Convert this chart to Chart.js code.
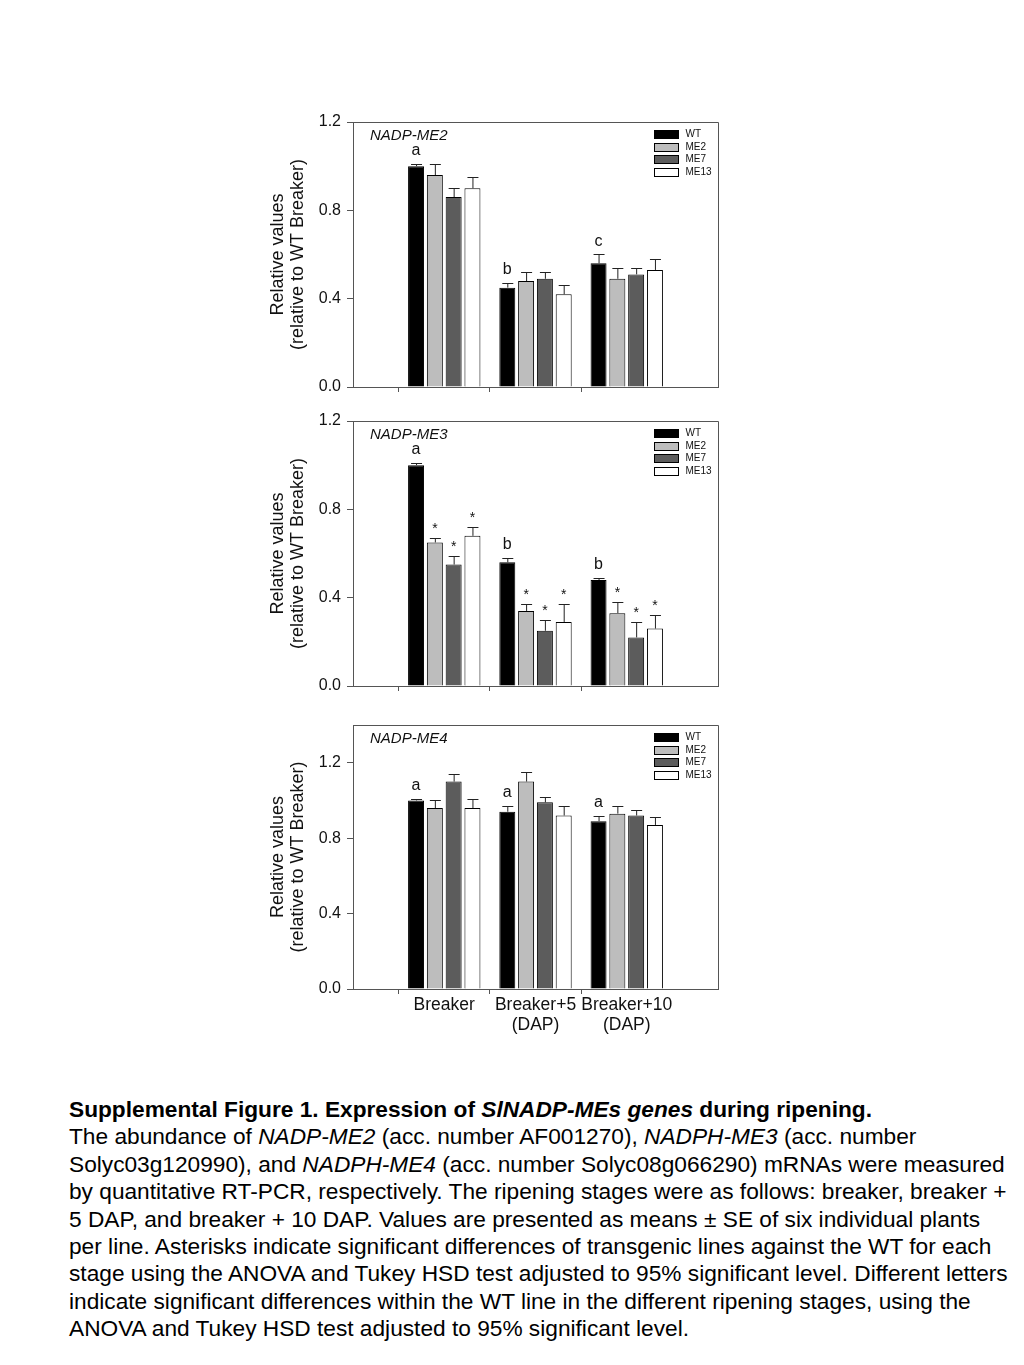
<!DOCTYPE html>
<html>
<head>
<meta charset="utf-8">
<script src="https://cdn.jsdelivr.net/npm/chart.js@4.4.1/dist/chart.umd.min.js"></script>
<style>
  body { margin: 0; background: #fff; width: 1024px; height: 1365px; position: relative; font-family: "Liberation Sans", Arial, sans-serif; }
  canvas { position: absolute; }
  #caption { position: absolute; left: 69px; top: 1096px; font-size: 22.7px; line-height: 27.4px; color: #000; white-space: nowrap; }
</style>
</head>
<body>
<canvas id="me2" width="462" height="297" style="left:268px; top:106px"></canvas>
<canvas id="me3" width="462" height="297" style="left:268px; top:405px"></canvas>
<canvas id="me4" width="462" height="332" style="left:268px; top:709px"></canvas>

<div id="caption">
<b>Supplemental Figure 1. Expression of <i>SlNADP-MEs genes</i> during ripening.</b><br>
The abundance of <i>NADP-ME2</i> (acc. number AF001270), <i>NADPH-ME3</i> (acc. number<br>
Solyc03g120990), and <i>NADPH-ME4</i> (acc. number Solyc08g066290) mRNAs were measured<br>
by quantitative RT-PCR, respectively. The ripening stages were as follows: breaker, breaker +<br>
5 DAP, and breaker + 10 DAP. Values are presented as means ± SE of six individual plants<br>
per line. Asterisks indicate significant differences of transgenic lines against the WT for each<br>
stage using the ANOVA and Tukey HSD test adjusted to 95% significant level. Different letters<br>
indicate significant differences within the WT line in the different ripening stages, using the<br>
ANOVA and Tukey HSD test adjusted to 95% significant level.
</div>

<script>
// ripening stages and plant lines
var categories = ['Breaker', ['Breaker+5', '(DAP)'], ['Breaker+10', '(DAP)']];
var lines = ['WT', 'ME2', 'ME7', 'ME13'];
var lineColors = ['#000000', '#bdbdbd', '#5c5c5c', '#ffffff'];
var yTicks = [0, 0.4, 0.8, 1.2];

// NADP-ME2 (rows: WT, ME2, ME7, ME13)
var me2Means = [
    [1.00, 0.45, 0.56],
    [0.96, 0.48, 0.49],
    [0.86, 0.49, 0.51],
    [0.90, 0.42, 0.53]
];
var me2Errors = [
    [0.01, 0.02, 0.04],
    [0.05, 0.04, 0.05],
    [0.04, 0.03, 0.03],
    [0.05, 0.04, 0.05]
];
var me2Letters = ['a', 'b', 'c'];
var me2Stars = [
    [false, false, false],
    [false, false, false],
    [false, false, false]
];

// NADP-ME3
var me3Means = [
    [1.00, 0.56, 0.48],
    [0.65, 0.34, 0.33],
    [0.55, 0.25, 0.22],
    [0.68, 0.29, 0.26]
];
var me3Errors = [
    [0.01, 0.02, 0.01],
    [0.02, 0.03, 0.05],
    [0.04, 0.05, 0.07],
    [0.04, 0.08, 0.06]
];
var me3Letters = ['a', 'b', 'b'];
var me3Stars = [
    [true, true, true],
    [true, true, true],
    [true, true, true]
];

// NADP-ME4
var me4Means = [
    [1.00, 0.94, 0.89],
    [0.96, 1.10, 0.93],
    [1.10, 0.99, 0.92],
    [0.96, 0.92, 0.87]
];
var me4Errors = [
    [0.01, 0.03, 0.03],
    [0.04, 0.05, 0.04],
    [0.04, 0.03, 0.03],
    [0.05, 0.05, 0.04]
];
var me4Letters = ['a', 'a', 'a'];
var me4Stars = [
    [false, false, false],
    [false, false, false],
    [false, false, false]
];

var FONT = '"Liberation Sans", Arial, sans-serif';
var AXIS = '#555555';

// error bars, letters, asterisks, frame, panel name and legend
var annotPlugin = {
    id: 'annot',
    afterDatasetsDraw: function(chart, args, opts) {
        var ctx = chart.ctx;
        var y = chart.scales.y;
        var area = chart.chartArea;
        ctx.save();

        chart.data.datasets.forEach(function(ds, i) {
            var meta = chart.getDatasetMeta(i);
            for (var j = 0; j < categories.length; j++) {
                var bar = meta.data[j + 1];
                var top = y.getPixelForValue(opts.means[i][j] + opts.errors[i][j]);
                ctx.strokeStyle = '#222';
                ctx.lineWidth = 1;
                ctx.beginPath();
                ctx.moveTo(bar.x + 0.5, bar.y);
                ctx.lineTo(bar.x + 0.5, Math.round(top) + 0.5);
                ctx.moveTo(bar.x - 5, Math.round(top) + 0.5);
                ctx.lineTo(bar.x + 6, Math.round(top) + 0.5);
                ctx.stroke();

                ctx.fillStyle = '#111';
                ctx.textAlign = 'center';
                ctx.textBaseline = 'alphabetic';
                if (i === 0) {
                    ctx.font = '16px ' + FONT;
                    ctx.fillText(opts.letters[j], bar.x, top - 9);
                } else if (opts.stars[i - 1][j]) {
                    ctx.font = '14px ' + FONT;
                    ctx.fillText('*', bar.x, top - 5);
                }
            }
        });

        // top and right frame
        ctx.strokeStyle = AXIS;
        ctx.lineWidth = 1;
        ctx.beginPath();
        ctx.moveTo(Math.round(area.left), Math.round(area.top) + 0.5);
        ctx.lineTo(Math.round(area.right) + 0.5, Math.round(area.top) + 0.5);
        ctx.lineTo(Math.round(area.right) + 0.5, Math.round(area.bottom));
        ctx.stroke();

        // panel name
        ctx.fillStyle = '#111';
        ctx.font = 'italic 15px ' + FONT;
        ctx.textAlign = 'left';
        ctx.textBaseline = 'middle';
        ctx.fillText(opts.title, area.left + 17, area.top + 14);

        // legend
        ctx.font = '10px ' + FONT;
        chart.data.datasets.forEach(function(ds, i) {
            var bx = Math.round(area.right - 64) + 0.5;
            var by = Math.round(area.top + 8 + i * 12.5) + 0.5;
            ctx.fillStyle = ds.backgroundColor;
            ctx.fillRect(bx, by, 24, 8);
            ctx.strokeStyle = '#000';
            ctx.strokeRect(bx, by, 24, 8);
            ctx.fillStyle = '#111';
            ctx.fillText(ds.label, bx + 31, by + 4);
        });
        ctx.restore();
    }
};

function makePanel(id, title, means, errors, letters, stars, yMax, showLabels) {
    var labels = [''].concat(categories).concat(['']);
    var datasets = lines.map(function(name, i) {
        return {
            label: name,
            data: [null].concat(means[i]).concat([null]),
            backgroundColor: lineColors[i],
            borderColor: '#000000',
            borderWidth: 1,
            categoryPercentage: 0.824,
            barPercentage: 0.85
        };
    });

    return new Chart(document.getElementById(id).getContext('2d'), {
        type: 'bar',
        data: { labels: labels, datasets: datasets },
        options: {
            responsive: false,
            animation: false,
            devicePixelRatio: 1,
            layout: { padding: { top: 16, right: 12, left: 0, bottom: 0 } },
            scales: {
                x: {
                    offset: false,
                    border: { display: true, color: AXIS },
                    grid: {
                        drawOnChartArea: false,
                        tickLength: 5,
                        color: function(c) {
                            return (c.index === 0 || c.index === labels.length - 1) ? 'rgba(0,0,0,0)' : AXIS;
                        }
                    },
                    ticks: {
                        display: showLabels,
                        autoSkip: false,
                        maxRotation: 0,
                        color: '#111',
                        font: { family: FONT, size: 17.5, lineHeight: 1.1 },
                        padding: 2
                    },
                    afterFit: function(s) { s.height = showLabels ? 52 : 16; }
                },
                y: {
                    min: 0,
                    max: yMax,
                    border: { display: true, color: AXIS },
                    grid: { drawOnChartArea: false, tickLength: 6, color: AXIS },
                    afterBuildTicks: function(s) {
                        s.ticks = yTicks.map(function(v) { return { value: v }; });
                    },
                    ticks: {
                        color: '#111',
                        font: { family: FONT, size: 16 },
                        padding: 6,
                        callback: function(v) { return v.toFixed(1); }
                    },
                    title: {
                        display: true,
                        text: ['Relative values', '(relative to WT Breaker)'],
                        color: '#111',
                        font: { family: FONT, size: 18, lineHeight: 1.1 },
                        padding: { top: 0, bottom: 4 }
                    },
                    afterFit: function(s) { s.width = 85; }
                }
            },
            plugins: {
                legend: { display: false },
                tooltip: { enabled: false },
                annot: {
                    title: title,
                    means: means,
                    errors: errors,
                    letters: letters,
                    stars: stars
                }
            }
        },
        plugins: [annotPlugin]
    });
}

makePanel('me2', 'NADP-ME2', me2Means, me2Errors, me2Letters, me2Stars, 1.2, false);
makePanel('me3', 'NADP-ME3', me3Means, me3Errors, me3Letters, me3Stars, 1.2, false);
makePanel('me4', 'NADP-ME4', me4Means, me4Errors, me4Letters, me4Stars, 1.4, true);
</script>
</body>
</html>
